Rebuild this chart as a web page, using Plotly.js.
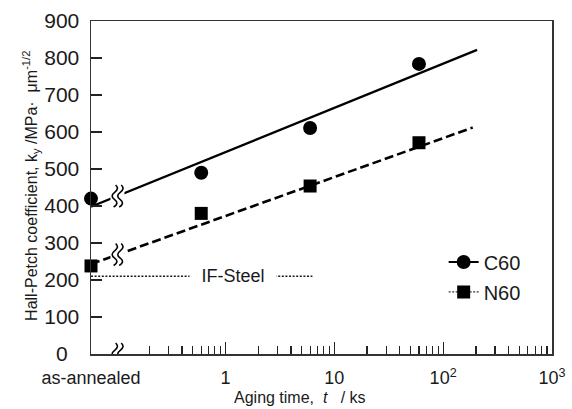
<!DOCTYPE html>
<html>
<head>
<meta charset="utf-8">
<script src="https://cdn.plot.ly/plotly-3.0.1.min.js"></script>
<style>
  html, body { margin: 0; padding: 0; background: #fff; }
  #chart { width: 572px; height: 409px; }
</style>
</head>
<body>
<div id="chart"></div>
<script>
// ---- data ----
// "as-annealed" is placed at the left edge of the logarithmic time axis
const asAnnealedTime = 0.0583;
const xTickVals = [asAnnealedTime, 1, 10, 100, 1000];
const xTickText = ['as-annealed', '1', '10', '10<sup>2</sup>', '10<sup>3</sup>'];
const xMinorTickVals = [0.2, 0.3, 0.4, 0.5, 0.6, 0.7, 0.8, 0.9,
                        2, 3, 4, 5, 6, 7, 8, 9,
                        20, 30, 40, 50, 60, 70, 80, 90,
                        200, 300, 400, 500, 600, 700, 800, 900];
const yTickVals = [0, 100, 200, 300, 400, 500, 600, 700, 800, 900];
const yTickText = ['0\u2007', '100', '200', '300', '400', '500', '600', '700', '800', '900'];

const c60Time = [asAnnealedTime, 0.6, 6, 60];
const c60Ky   = [420, 490, 611, 784];
const n60Time = [asAnnealedTime, 0.6, 6, 60];
const n60Ky   = [238, 380, 454, 571];

const c60FitTime = [asAnnealedTime, 205];
const c60FitKy   = [398, 822];
const n60FitTime = [asAnnealedTime, 187];
const n60FitKy   = [243, 612];

const ifSteelTime = [asAnnealedTime, 6.3];
const ifSteelKy   = [210, 210];
const ifSteelLabelTime = 1.17;

// axis-break positions (time where the break sits, k_y of the line there)
const breakTime = 0.102;
const breakKy = [427, 269, 0];

// ---- helpers ----
// put a gap between isolated points so the marker trace draws no connecting line
const gapped = a => a.flatMap((v, i) => i ? [null, v] : [v]);

const FONT = 'Arial, "Liberation Sans", Helvetica, sans-serif';
const INK = '#1a1a1a';

const traces = [
  { x: ifSteelTime, y: ifSteelKy, mode: 'lines', showlegend: false, hoverinfo: 'skip',
    line: { color: INK, width: 1.6, dash: '2px,1.6px' } },
  { x: c60FitTime, y: c60FitKy, mode: 'lines', showlegend: false,
    line: { color: '#000', width: 2.2 } },
  { x: n60FitTime, y: n60FitKy, mode: 'lines', showlegend: false,
    line: { color: '#000', width: 2.6, dash: '9px,4px' } },
  { x: gapped(c60Time), y: gapped(c60Ky), name: 'C60', legendgroup: 'c60',
    mode: 'lines+markers', cliponaxis: false, connectgaps: false,
    line: { color: '#000', width: 2 },
    marker: { symbol: 'circle', size: 14, color: '#000' } },
  { x: gapped(n60Time), y: gapped(n60Ky), name: 'N60', legendgroup: 'n60',
    mode: 'lines+markers', cliponaxis: false, connectgaps: false,
    line: { color: '#333', width: 1.2, dash: '2px,1.5px' },
    marker: { symbol: 'square', size: 13, color: '#000' } }
];

// break symbols: white gap + two wavy strokes, sized in pixels around an anchor
const gapPath = 'M -7,-7 L 7,-7 L 7,7 L -7,7 Z';
const wave = dx => `M ${dx - 1},-11 Q ${dx + 5},-7.3 ${dx},-3.7 Q ${dx - 5},0 ${dx},3.7 Q ${dx + 5},7.3 ${dx + 1},11`;
const shapes = [];
breakKy.forEach(ky => {
  const common = { xref: 'x', yref: 'y', xsizemode: 'pixel', ysizemode: 'pixel',
                   xanchor: breakTime, yanchor: ky, layer: 'above' };
  shapes.push(Object.assign({ type: 'path', path: gapPath, fillcolor: '#fff',
                              line: { width: 0 } }, common));
  shapes.push(Object.assign({ type: 'path', path: wave(-2.8) + ' ' + wave(2.8),
                              line: { color: '#000', width: 1.6 } }, common));
});

const layout = {
  width: 572, height: 409,
  margin: { l: 91, r: 20, t: 21, b: 55 },
  paper_bgcolor: '#fff', plot_bgcolor: '#fff',
  font: { family: FONT, color: INK },
  showlegend: true,
  legend: {
    x: 0.765, y: 0.335, xanchor: 'left', yanchor: 'top',
    bgcolor: 'rgba(0,0,0,0)', font: { family: FONT, size: 20, color: INK },
    tracegroupgap: 1, itemwidth: 30
  },
  xaxis: {
    type: 'log', range: [Math.log10(asAnnealedTime), 3],
    tickmode: 'array', tickvals: xTickVals, ticktext: xTickText,
    ticks: 'inside', ticklen: 12, tickwidth: 1.2, tickcolor: '#222',
    minor: { tickmode: 'array', tickvals: xMinorTickVals, ticks: 'inside',
             ticklen: 8, tickwidth: 1.2, tickcolor: '#222', showgrid: false },
    showline: true, linecolor: '#333', linewidth: 1.5, mirror: true,
    showgrid: false, zeroline: false,
    tickfont: { family: FONT, size: 18, color: INK },
    ticklabelstandoff: 7
  },
  yaxis: {
    range: [0, 900], tickmode: 'array', tickvals: yTickVals, ticktext: yTickText,
    ticks: 'inside', ticklen: 11, tickwidth: 1.2, tickcolor: '#222',
    showline: true, linecolor: '#333', linewidth: 1.5, mirror: true,
    showgrid: false, zeroline: false,
    tickfont: { family: FONT, size: 21, color: INK },
    ticklabelstandoff: 6
  },
  shapes: shapes,
  annotations: [
    { text: 'IF-Steel', xref: 'x', yref: 'y', x: Math.log10(ifSteelLabelTime), y: ifSteelKy[0],
      showarrow: false, xanchor: 'center', yanchor: 'middle', bgcolor: '#fff', width: 86,
      borderpad: 0, font: { family: FONT, size: 18, color: INK } },
    { text: 'Aging time,  <i>t</i>   / ks', xref: 'paper', yref: 'paper',
      x: 0.453, y: -0.131, xanchor: 'center', yanchor: 'middle', showarrow: false,
      font: { family: FONT, size: 16, color: INK } },
    { text: 'Hall-Petch coefficient, k<sub>y</sub> /MPa·  μm<sup>-1/2</sup>',
      xref: 'paper', yref: 'paper', x: -0.13, y: 0.505, textangle: -90,
      xanchor: 'center', yanchor: 'middle', showarrow: false,
      font: { family: FONT, size: 16, color: INK } }
  ]
};

Plotly.newPlot('chart', traces, layout, { displayModeBar: false, staticPlot: true });
</script>
</body>
</html>
